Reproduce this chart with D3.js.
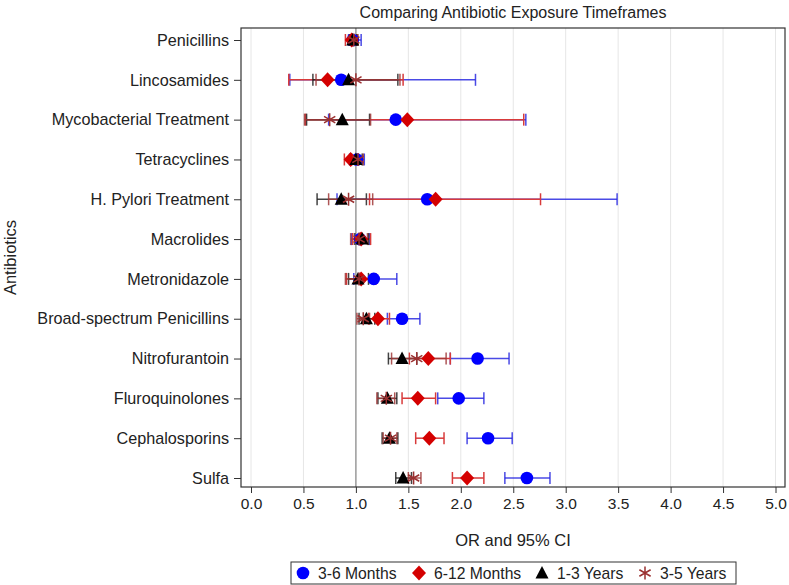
<!DOCTYPE html>
<html><head><meta charset="utf-8">
<script src="https://cdn.jsdelivr.net/npm/d3@7"></script>
<style>body{margin:0;background:#fff}svg{display:block;font-family:"Liberation Sans",Arial,sans-serif}</style>
</head><body><svg id="c" width="789" height="585"></svg>
<script>
const categories = ["Penicillins","Lincosamides","Mycobacterial Treatment","Tetracyclines","H. Pylori Treatment","Macrolides","Metronidazole","Broad-spectrum Penicillins","Nitrofurantoin","Fluroquinolones","Cephalosporins","Sulfa"];
const seriesNames = ["3-6 Months","6-12 Months","1-3 Years","3-5 Years"];
const or_3_6  = [0.97,0.86,1.38,1.01,1.68,1.04,1.17,1.44,2.16,1.98,2.26,2.63];
const lo_3_6  = [0.93,0.37,0.74,0.94,0.82,0.96,0.98,1.30,1.90,1.78,2.06,2.42];
const hi_3_6  = [1.05,2.14,2.62,1.08,3.49,1.13,1.39,1.61,2.46,2.22,2.49,2.85];
const or_6_12 = [0.96,0.73,1.49,0.95,1.76,1.05,1.05,1.21,1.69,1.59,1.70,2.06];
const lo_6_12 = [0.90,0.36,0.52,0.89,1.13,0.97,0.91,1.12,1.51,1.44,1.57,1.92];
const hi_6_12 = [1.01,1.45,2.60,1.02,2.76,1.14,1.19,1.32,1.90,1.76,1.84,2.22];
const or_1_3  = [0.97,0.93,0.87,1.00,0.86,1.06,1.02,1.10,1.44,1.30,1.32,1.45];
const lo_1_3  = [0.94,0.59,0.53,0.95,0.63,0.99,0.93,1.03,1.31,1.21,1.25,1.38];
const hi_1_3  = [1.01,1.40,1.13,1.06,1.10,1.12,1.12,1.18,1.58,1.39,1.40,1.53];
const or_3_5  = [0.98,1.00,0.75,1.02,0.93,1.03,1.03,1.07,1.58,1.29,1.33,1.55];
const lo_3_5  = [0.95,0.62,0.51,0.96,0.74,0.95,0.90,1.01,1.34,1.20,1.26,1.50];
const hi_3_5  = [1.02,1.42,1.14,1.07,1.16,1.11,1.18,1.13,1.86,1.37,1.39,1.62];
const xTicks = [0,0.5,1,1.5,2,2.5,3,3.5,4,4.5,5];

const series = [
  {name:seriesNames[0], or:or_3_6, lo:lo_3_6, hi:hi_3_6, fill:"#0000ff", line:"#2a2ae0", op:0.85, sym:"circle"},
  {name:seriesNames[1], or:or_6_12, lo:lo_6_12, hi:hi_6_12, fill:"#d40000", line:"#d83a3a", op:1, sym:"diamond"},
  {name:seriesNames[2], or:or_1_3, lo:lo_1_3, hi:hi_1_3, fill:"#000000", line:"#222222", op:0.85, sym:"triangle"},
  {name:seriesNames[3], or:or_3_5, lo:lo_3_5, hi:hi_3_5, fill:"#9b3030", line:"#a03838", op:0.85, sym:"star"}
];

const svg = d3.select("#c");
const L=241, R=785, T=28, B=487;
const x = d3.scaleLinear().domain([0,5]).range([251,775.5]);
const y = d3.scalePoint().domain(categories).range([40,478]);

svg.append("g").selectAll("line").data(xTicks.filter(d=>d!==1)).join("line")
  .attr("x1",d=>x(d)).attr("x2",d=>x(d)).attr("y1",T).attr("y2",B)
  .attr("stroke","#e6e6e6").attr("stroke-width",1);
svg.append("line").attr("x1",x(1)).attr("x2",x(1)).attr("y1",T).attr("y2",B)
  .attr("stroke","#8a8a8a").attr("stroke-width",1.3);

const xa = svg.append("g").attr("transform",`translate(0,${B})`)
  .call(d3.axisBottom(x).tickValues(xTicks).tickFormat(d3.format(".1f")).tickSize(6).tickPadding(5));
xa.select(".domain").remove();
xa.selectAll("line").attr("stroke","#333");
xa.selectAll("text").attr("font-size","15.5px").attr("fill","#222").attr("font-family","Liberation Sans, Arial");
const ya = svg.append("g").attr("transform",`translate(${L},0)`)
  .call(d3.axisLeft(y).tickSize(7).tickPadding(5));
ya.select(".domain").remove();
ya.selectAll("line").attr("stroke","#333");
ya.selectAll("text").attr("font-size","16.2px").attr("fill","#222").attr("font-family","Liberation Sans, Arial");

svg.append("rect").attr("x",L).attr("y",T).attr("width",R-L).attr("height",B-T)
  .attr("fill","none").attr("stroke","#333").attr("stroke-width",1.2);

const cap=6;
series.forEach(s=>{
  const g = svg.append("g").attr("stroke",s.line).attr("stroke-width",1.5).attr("stroke-opacity",s.op);
  categories.forEach((c,i)=>{
    const yy=y(c);
    g.append("line").attr("x1",x(s.lo[i])).attr("x2",x(s.hi[i])).attr("y1",yy).attr("y2",yy);
    g.append("line").attr("x1",x(s.lo[i])).attr("x2",x(s.lo[i])).attr("y1",yy-cap).attr("y2",yy+cap);
    g.append("line").attr("x1",x(s.hi[i])).attr("x2",x(s.hi[i])).attr("y1",yy-cap).attr("y2",yy+cap);
  });
});

function drawMarker(g, sym, cx, cy, s){
  if(sym==="circle") g.append("circle").attr("cx",cx).attr("cy",cy).attr("r",6.3).attr("fill",s.fill);
  else if(sym==="diamond") g.append("path").attr("d",`M${cx},${cy-7.5}L${cx+7},${cy}L${cx},${cy+7.5}L${cx-7},${cy}Z`).attr("fill",s.fill);
  else if(sym==="triangle") g.append("path").attr("d",`M${cx},${cy-7}L${cx+6.5},${cy+5.5}L${cx-6.5},${cy+5.5}Z`).attr("fill",s.fill);
  else {
    const r=6.5;
    const p=[0,60,120].map(a=>{const t=a*Math.PI/180;const dx=r*Math.sin(t),dy=r*Math.cos(t);return `M${cx-dx},${cy-dy}L${cx+dx},${cy+dy}`;}).join("");
    g.append("path").attr("d",p).attr("stroke",s.fill).attr("stroke-width",1.5).attr("fill","none");
  }
}
series.forEach(s=>{
  const g=svg.append("g");
  categories.forEach((c,i)=>drawMarker(g,s.sym,x(s.or[i]),y(c),s));
});

svg.append("text").attr("x",(L+R)/2).attr("y",18).attr("text-anchor","middle")
  .attr("font-size","16px").attr("fill","#222").text("Comparing Antibiotic Exposure Timeframes");
svg.append("text").attr("x",(L+R)/2).attr("y",546).attr("text-anchor","middle")
  .attr("font-size","16.5px").attr("fill","#222").text("OR and 95% CI");
svg.append("text").attr("transform",`translate(15.5,${(T+B)/2}) rotate(-90)`).attr("text-anchor","middle")
  .attr("font-size","16.5px").attr("fill","#222").text("Antibiotics");

svg.append("rect").attr("x",291).attr("y",562).attr("width",445).attr("height",22)
  .attr("fill","#fff").attr("stroke","#333").attr("stroke-width",1);
const legX=[303,419,542,645];
const lg=svg.append("g");
series.forEach((s,i)=>{
  drawMarker(lg,s.sym,legX[i],573,s);
  lg.append("text").attr("x",legX[i]+15).attr("y",578.5).attr("font-size","15.7px").attr("fill","#222").text(s.name);
});
</script></body></html>
